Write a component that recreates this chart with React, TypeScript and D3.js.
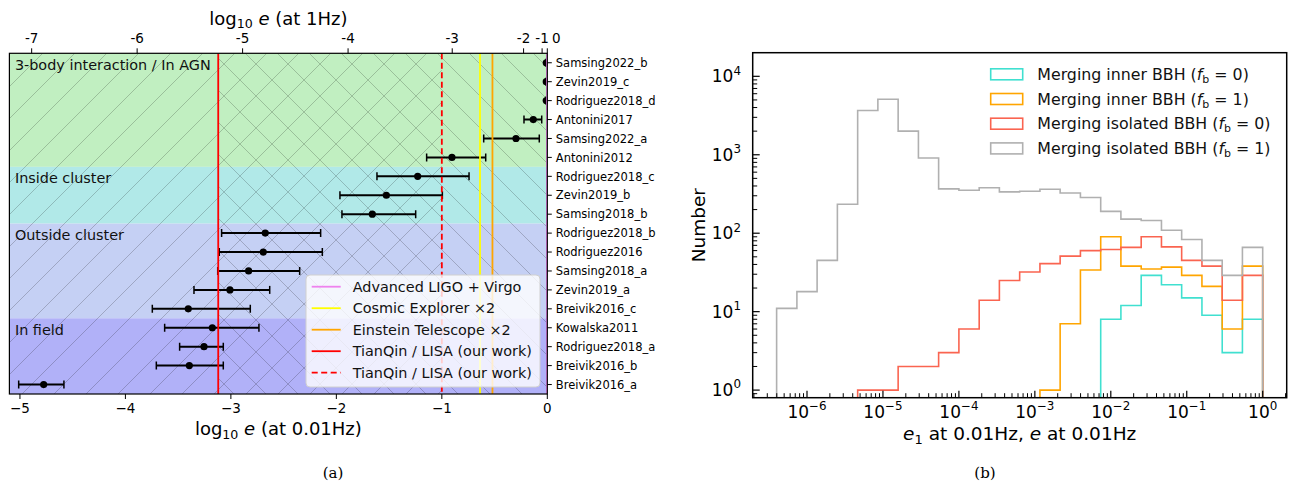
import React from 'react';
import * as d3 from 'd3';

// ---------------- Panel (a) data ----------------
const CATEGORIES = [
  'Samsing2022_b', 'Zevin2019_c', 'Rodriguez2018_d', 'Antonini2017', 'Samsing2022_a', 'Antonini2012',
  'Rodriguez2018_c', 'Zevin2019_b', 'Samsing2018_b',
  'Rodriguez2018_b', 'Rodriguez2016', 'Samsing2018_a', 'Zevin2019_a', 'Breivik2016_c',
  'Kowalska2011', 'Rodriguez2018_a', 'Breivik2016_b', 'Breivik2016_a',
];
const CENTRAL = [-0.01, -0.01, -0.01, -0.133, -0.297, -0.904, -1.229, -1.526, -1.659, -2.674, -2.693, -2.832, -3.009, -3.404, -3.176, -3.255, -3.394, -4.775];
const LOWER = [-0.01, -0.01, -0.01, -0.221, -0.603, -1.144, -1.615, -1.966, -1.947, -3.088, -3.11, -3.125, -3.35, -3.745, -3.628, -3.486, -3.707, -5.012];
const UPPER = [-0.01, -0.01, -0.01, -0.053, -0.076, -0.584, -0.742, -0.995, -1.248, -2.149, -2.133, -2.348, -2.632, -2.816, -2.734, -3.072, -3.072, -4.583];

const REGION_NAMES = ['3-body interaction / In AGN', 'Inside cluster', 'Outside cluster', 'In field'];
const REGION_FIRST = ['Samsing2022_b', 'Rodriguez2018_c', 'Rodriguez2018_b', 'Kowalska2011'];
const REGION_LAST = ['Antonini2012', 'Samsing2018_b', 'Breivik2016_c', 'Breivik2016_a'];
const REGION_COLORS = ['#c1efc1', '#b1e9e8', '#c5d0f4', '#b1b1f8'];

const DETECTORS = ['Advanced LIGO + Virgo', 'Cosmic Explorer ×2', 'Einstein Telescope ×2', 'TianQin / LISA (our work)', 'TianQin / LISA (our work)'];
const DET_VALUES = [0, -0.638, -0.52, -3.12, -1.0];
const DET_COLORS = ['#ee82ee', '#ffff00', '#ffa500', '#ff0000', '#ff0000'];
const DET_DASHED = [false, false, false, false, true];

const BOTTOM_TICKS = [-5, -4, -3, -2, -1, 0];
const TOP_TICKS = [-7, -6, -5, -4, -3, -2, -1, 0];
const X_DOMAIN_A = [-5.1, 0];
const FREQ_RATIO = 100; // 1Hz / 0.01Hz

// ---------------- Panel (b) data ----------------
const BIN_EDGES_LOG = [-6.4, -6.133, -5.867, -5.6, -5.333, -5.067, -4.8, -4.533, -4.267, -4.0, -3.733, -3.467, -3.2, -2.933, -2.667, -2.4, -2.133, -1.867, -1.6, -1.333, -1.067, -0.8, -0.533, -0.267, 0];
const INNER_FB0 = [0, 0, 0, 0, 0, 0, 0, 0, 0, 0, 0, 0, 0, 0, 0, 0, 8, 12, 29, 22, 15, 9, 3, 8];
const INNER_FB1 = [0, 0, 0, 0, 0, 0, 0, 0, 0, 0, 0, 0, 0, 1, 7, 34, 90, 38, 35, 37, 29, 21, 6, 38];
const ISO_FB0 = [0, 0, 0, 0, 1, 1, 2, 2, 3, 6, 14, 25, 32, 41, 51, 60, 62, 66, 90, 67, 45, 38, 14, 29];
const ISO_FB1 = [11, 18, 45, 234, 3660, 5100, 2000, 910, 367, 353, 380, 336, 343, 363, 326, 285, 190, 151, 145, 109, 83, 45, 29, 66];
const HIST_SERIES = [INNER_FB0, INNER_FB1, ISO_FB0, ISO_FB1];
const HIST_NAMES = ['Merging inner BBH', 'Merging inner BBH', 'Merging isolated BBH', 'Merging isolated BBH'];
const HIST_FB = ['0', '1', '0', '1'];
const HIST_COLORS = ['#40e0d0', '#ffa500', '#fa6450', '#b0b0b0'];
const X_TICK_EXP = [-6, -5, -4, -3, -2, -1, 0];
const Y_TICK_EXP = [0, 1, 2, 3, 4];

const FONT = 'DejaVu Sans, sans-serif';

// Peters (1964) a(e) relation
function peg(e: number) {
  return Math.pow(e, 12 / 19) / (1 - e * e) * Math.pow(1 + (121 / 304) * e * e, 870 / 2299);
}
function midPoint(lo: number, hi: number) { return hi - lo < 1e-3 ? (lo + hi) / 2 : Math.sqrt(lo * hi); }
function e0FromE1(e1: number) {
  if (e1 >= 1) return 1;
  const target = peg(e1) / Math.pow(FREQ_RATIO, -2 / 3);
  let lo = 1e-15, hi = 1 - 1e-12;
  for (let i = 0; i < 200; i++) {
    const mid = midPoint(lo, hi);
    if (peg(mid) < target) lo = mid; else hi = mid;
  }
  return (lo + hi) / 2;
}

function LogText({ x, y, exp, size, anchor }: any) {
  const sup = exp < 0 ? '−' + Math.abs(exp) : String(exp);
  return (
    <text x={x} y={y} fontSize={size} textAnchor={anchor} fontFamily={FONT} fill="#000">
      10<tspan fontSize={size * 0.7} dy={-size * 0.45}>{sup}</tspan>
    </text>
  );
}

export default function App() {
  // ---------- Panel (a) ----------
  const A = { left: 9.4, right: 547.3, top: 53.3, bottom: 394 };
  const xA = d3.scaleLinear().domain(X_DOMAIN_A).range([A.left, A.right]);
  const yA = d3.scaleBand<string>().domain(CATEGORIES).range([A.top, A.bottom]);
  const bw = yA.bandwidth();
  const yc = (c: string) => (yA(c) as number) + bw / 2;
  const hs = 32;
  const tianSolid = DET_VALUES[3];
  const tianDash = DET_VALUES[4];

  // ---------- Panel (b) ----------
  const B = { left: 752.7, right: 1286.7, top: 52.7, bottom: 397.7 };
  const xB = d3.scaleLog().domain([Math.pow(10, -6.715), Math.pow(10, 0.316)]).range([B.left, B.right]);
  const yB = d3.scaleLog().domain([0.8, 2e4]).range([B.bottom, B.top]);
  const stepPath = (counts: number[]) => {
    const i0 = counts.findIndex((c) => c > 0);
    const pts: [number, number][] = [[xB(Math.pow(10, BIN_EDGES_LOG[i0])), B.bottom + 5]];
    for (let i = i0; i < counts.length; i++) {
      pts.push([xB(Math.pow(10, BIN_EDGES_LOG[i])), yB(counts[i])]);
      pts.push([xB(Math.pow(10, BIN_EDGES_LOG[i + 1])), yB(counts[i])]);
    }
    pts.push([xB(Math.pow(10, BIN_EDGES_LOG[counts.length])), B.bottom + 5]);
    return d3.line()(pts) as string;
  };
  const xMinor: number[] = [];
  for (let k = -7; k <= 0; k++) for (let j = 2; j <= 9; j++) {
    const v = j * Math.pow(10, k);
    const px = xB(v);
    if (px > B.left && px < B.right) xMinor.push(v);
  }
  const yMinor: number[] = [];
  for (let k = -1; k <= 4; k++) for (let j = 2; j <= 9; j++) {
    const v = j * Math.pow(10, k);
    const py = yB(v);
    if (py > B.top && py < B.bottom) yMinor.push(v);
  }

  const legendA = { x: 306, y: 275, w: 234, h: 112 };

  return (
    <svg width={1295} height={486} style={{ position: 'absolute', left: 0, top: 0, background: '#fff' }} fontFamily={FONT}>
      <defs>
        <clipPath id="clipA"><rect x={A.left} y={A.top} width={A.right - A.left} height={A.bottom - A.top} /></clipPath>
        <clipPath id="clipB"><rect x={B.left} y={B.top} width={B.right - B.left} height={B.bottom - B.top} /></clipPath>
        <pattern id="hatchF" width={hs} height={hs} patternUnits="userSpaceOnUse">
          <path d={`M0,${hs} L${hs},0 M${-hs / 4},${hs / 4} L${hs / 4},${-hs / 4} M${(3 * hs) / 4},${(5 * hs) / 4} L${(5 * hs) / 4},${(3 * hs) / 4}`} stroke="rgba(0,0,0,0.2)" strokeWidth={1} />
        </pattern>
        <pattern id="hatchB" width={hs} height={hs} patternUnits="userSpaceOnUse">
          <path d={`M0,0 L${hs},${hs} M${-hs / 4},${(3 * hs) / 4} L${hs / 4},${(5 * hs) / 4} M${(3 * hs) / 4},${-hs / 4} L${(5 * hs) / 4},${hs / 4}`} stroke="rgba(0,0,0,0.2)" strokeWidth={1} />
        </pattern>
      </defs>

      {/* ===== Panel (a) ===== */}
      <g clipPath="url(#clipA)">
        {REGION_NAMES.map((n, i) => {
          const y0 = yA(REGION_FIRST[i]) as number;
          const y1 = (yA(REGION_LAST[i]) as number) + bw;
          return <rect key={n} x={A.left} y={y0} width={A.right - A.left} height={y1 - y0} fill={REGION_COLORS[i]} />;
        })}
        <rect x={A.left} y={A.top} width={xA(tianDash) - A.left} height={A.bottom - A.top} fill="url(#hatchF)" />
        <rect x={xA(tianSolid)} y={A.top} width={A.right - xA(tianSolid)} height={A.bottom - A.top} fill="url(#hatchB)" />
        {CATEGORIES.map((c, i) => {
          const y = yc(c);
          return (
            <g key={c}>
              <line x1={xA(LOWER[i])} x2={xA(UPPER[i])} y1={y} y2={y} stroke="#000" strokeWidth={2} />
              <line x1={xA(LOWER[i])} x2={xA(LOWER[i])} y1={y - 4} y2={y + 4} stroke="#000" strokeWidth={1.5} />
              <line x1={xA(UPPER[i])} x2={xA(UPPER[i])} y1={y - 4} y2={y + 4} stroke="#000" strokeWidth={1.5} />
              <circle cx={xA(CENTRAL[i])} cy={y} r={3.6} fill="#000" />
            </g>
          );
        })}
        {DETECTORS.map((d, i) => (
          <line key={i} x1={xA(DET_VALUES[i])} x2={xA(DET_VALUES[i])} y1={A.top} y2={A.bottom}
            stroke={DET_COLORS[i]} strokeWidth={i === 0 ? 2.5 : 1.8} strokeDasharray={DET_DASHED[i] ? '6,3.5' : undefined} />
        ))}
      </g>
      {REGION_NAMES.map((n, i) => (
        <text key={n} x={A.left + 5.5} y={(yA(REGION_FIRST[i]) as number) + 16.5} fontSize={14.4} fill="#111">{n}</text>
      ))}
      {/* legend a */}
      <rect x={legendA.x} y={legendA.y} width={legendA.w} height={legendA.h} rx={4} fill="rgba(255,255,255,0.8)" stroke="#d0d0d0" strokeWidth={1} />
      {DETECTORS.map((d, i) => {
        const y = legendA.y + 11.7 + i * 21.5;
        return (
          <g key={i}>
            <line x1={legendA.x + 5.7} x2={legendA.x + 34.7} y1={y} y2={y} stroke={DET_COLORS[i]} strokeWidth={1.8} strokeDasharray={DET_DASHED[i] ? '6,3.5' : undefined} />
            <text x={legendA.x + 46.7} y={y + 5} fontSize={14.4} fill="#111">{d}</text>
          </g>
        );
      })}
      {/* frame a */}
      <rect x={A.left} y={A.top} width={A.right - A.left} height={A.bottom - A.top} fill="none" stroke="#000" strokeWidth={1.2} />
      {/* bottom axis */}
      {BOTTOM_TICKS.map((t) => (
        <g key={t}>
          <line x1={xA(t)} x2={xA(t)} y1={A.bottom} y2={A.bottom + 5} stroke="#000" strokeWidth={1} />
          <text x={xA(t)} y={A.bottom + 19} fontSize={13.5} textAnchor="middle">{t < 0 ? '−' + Math.abs(t) : String(t)}</text>
        </g>
      ))}
      <text x={(A.left + A.right) / 2} y={435} fontSize={18} textAnchor="middle">
        log<tspan fontSize={12.6} dy={4}>10</tspan><tspan dy={-4} fontStyle="italic"> e</tspan> (at 0.01Hz)
      </text>
      {/* top axis */}
      {TOP_TICKS.map((t, i) => {
        const xp = xA(Math.log10(e0FromE1(Math.pow(10, t))));
        return (
          <g key={t}>
            <line x1={xp} x2={xp} y1={A.top} y2={A.top - 5} stroke="#000" strokeWidth={1} />
            <text x={xp} y={A.top - 10} fontSize={13.5} textAnchor="middle" dx={i === TOP_TICKS.length - 1 ? 9 : 0}>{String(t)}</text>
          </g>
        );
      })}
      <text x={(A.left + A.right) / 2} y={24.5} fontSize={18} textAnchor="middle">
        log<tspan fontSize={12.6} dy={3.5}>10</tspan><tspan dy={-3.5} fontStyle="italic"> e</tspan> (at 1Hz)
      </text>
      {/* right category axis */}
      {CATEGORIES.map((c) => (
        <g key={c}>
          <line x1={A.right} x2={A.right + 4.5} y1={yc(c)} y2={yc(c)} stroke="#000" strokeWidth={1} />
          <text x={A.right + 8.5} y={yc(c) + 4.2} fontSize={11.5}>{c}</text>
        </g>
      ))}
      <text x={333} y={478} fontSize={15} textAnchor="middle" fontFamily="DejaVu Serif, serif">(a)</text>

      {/* ===== Panel (b) ===== */}
      <g clipPath="url(#clipB)">
        {HIST_SERIES.map((s, i) => (
          <path key={i} d={stepPath(s)} fill="none" stroke={HIST_COLORS[i]} strokeWidth={1.6} />
        ))}
      </g>
      {HIST_SERIES.map((s, i) => {
        const y = 74.3 + i * 24.7;
        return (
          <g key={i}>
            <rect x={990.7} y={y - 5.5} width={32} height={11} fill="none" stroke={HIST_COLORS[i]} strokeWidth={1.6} />
            <text x={1037.3} y={y + 5.5} fontSize={15.8} fill="#111">
              {HIST_NAMES[i]} (<tspan fontStyle="italic">f</tspan><tspan fontSize={11} dy={3}>b</tspan><tspan dy={-3}> = {HIST_FB[i]})</tspan>
            </text>
          </g>
        );
      })}
      <rect x={B.left} y={B.top} width={B.right - B.left} height={B.bottom - B.top} fill="none" stroke="#000" strokeWidth={1.5} />
      {X_TICK_EXP.map((k) => (
        <g key={k}>
          <line x1={xB(Math.pow(10, k))} x2={xB(Math.pow(10, k))} y1={B.bottom} y2={B.bottom - 7} stroke="#000" strokeWidth={1.2} />
          <LogText x={xB(Math.pow(10, k))} y={418} exp={k} size={17} anchor="middle" />
        </g>
      ))}
      {xMinor.map((v, i) => (
        <line key={i} x1={xB(v)} x2={xB(v)} y1={B.bottom} y2={B.bottom - 4.5} stroke="#000" strokeWidth={1} />
      ))}
      {Y_TICK_EXP.map((k) => (
        <g key={k}>
          <line x1={B.left} x2={B.left + 7} y1={yB(Math.pow(10, k))} y2={yB(Math.pow(10, k))} stroke="#000" strokeWidth={1.2} />
          <LogText x={741} y={yB(Math.pow(10, k)) + 6} exp={k} size={17} anchor="end" />
        </g>
      ))}
      {yMinor.map((v, i) => (
        <line key={i} x1={B.left} x2={B.left + 4.5} y1={yB(v)} y2={yB(v)} stroke="#000" strokeWidth={1} />
      ))}
      <text transform={`translate(705,${(B.top + B.bottom) / 2}) rotate(-90)`} fontSize={18.5} textAnchor="middle">Number</text>
      <text x={(B.left + B.right) / 2} y={440} fontSize={18.5} textAnchor="middle">
        <tspan fontStyle="italic">e</tspan><tspan fontSize={13} dy={4}>1</tspan><tspan dy={-4}> at 0.01Hz, </tspan><tspan fontStyle="italic">e</tspan> at 0.01Hz
      </text>
      <text x={985} y={478} fontSize={15} textAnchor="middle" fontFamily="DejaVu Serif, serif">(b)</text>
    </svg>
  );
}
